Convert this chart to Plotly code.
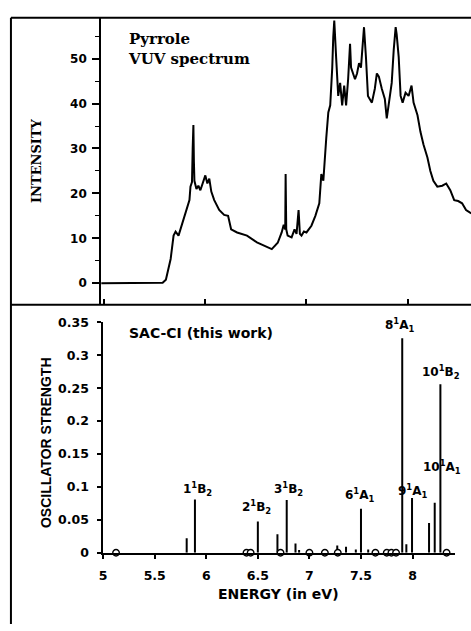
import plotly.graph_objects as go

# ---------------- data ----------------
# VUV spectrum of pyrrole (energy in eV, intensity)
spec_energy = [4.97, 5.30, 5.578, 5.61, 5.627, 5.657, 5.686, 5.706, 5.735, 5.775, 5.814, 5.843,
               5.853, 5.868, 5.875, 5.882, 5.887, 5.892, 5.912, 5.931, 5.951, 5.980, 6.000,
               6.020, 6.039, 6.059, 6.088, 6.137, 6.186, 6.225, 6.235, 6.255, 6.314, 6.412,
               6.510, 6.608, 6.657, 6.716, 6.755, 6.775, 6.790, 6.794, 6.800, 6.814, 6.853,
               6.882, 6.902, 6.922, 6.935, 6.951, 6.975, 7.000, 7.049, 7.088, 7.127, 7.147,
               7.167, 7.196, 7.216, 7.235, 7.245, 7.255, 7.265, 7.275, 7.294, 7.314, 7.333,
               7.353, 7.373, 7.392, 7.412, 7.431, 7.441, 7.461, 7.480, 7.500, 7.520, 7.539,
               7.569, 7.588, 7.608, 7.647, 7.676, 7.696, 7.716, 7.745, 7.775, 7.794, 7.814,
               7.843, 7.863, 7.882, 7.892, 7.912, 7.931, 7.951, 7.980, 8.010, 8.039, 8.059,
               8.098, 8.127, 8.157, 8.196, 8.225, 8.255, 8.294, 8.343, 8.382, 8.422, 8.461,
               8.500, 8.539, 8.578, 8.618, 8.660]
spec_intensity = [0.0, 0.1, 0.1, 0.8, 2.6, 5.4, 10.6, 11.5, 10.6, 13.5, 16.3, 18.5,
                  21.5, 22.5, 30.0, 35.2, 27.0, 22.8, 21.0, 21.7, 20.7, 22.8, 24.0,
                  22.2, 23.3, 20.4, 18.5, 16.3, 15.2, 15.0, 13.9, 12.0, 11.3, 10.6,
                  9.1, 8.0, 7.6, 9.0, 11.3, 13.0, 12.0, 24.3, 12.0, 10.6, 10.2,
                  12.0, 11.0, 16.3, 11.0, 10.6, 11.5, 11.3, 12.8, 15.0, 17.8, 24.3,
                  22.8, 32.4, 38.0, 39.6, 43.0, 48.0, 54.8, 58.5, 50.0, 41.7, 44.6,
                  39.6, 44.0, 39.6, 45.4, 53.3, 48.0, 46.7, 45.4, 46.7, 49.0, 48.0,
                  57.0, 50.4, 41.7, 40.2, 43.3, 46.7, 46.0, 43.3, 41.0, 36.7, 39.6,
                  44.6, 52.0, 57.0, 55.4, 50.4, 41.7, 40.2, 42.4, 41.7, 44.0, 40.2,
                  37.4, 33.7, 30.9, 28.0, 25.0, 22.8, 21.5, 21.7, 22.2, 20.7, 18.5,
                  18.3, 17.8, 16.3, 15.7, 15.2]

# SAC-CI oscillator strengths
stick_energy = [5.81, 5.89, 6.42, 6.50, 6.69, 6.78, 6.865, 6.90, 7.27, 7.355, 7.45, 7.50,
                7.57, 7.90, 7.94, 7.995, 8.16, 8.215, 8.27]
stick_strength = [0.022, 0.081, 0.005, 0.0475, 0.028, 0.080, 0.014, 0.004, 0.011, 0.009,
                  0.005, 0.067, 0.005, 0.326, 0.013, 0.083, 0.045, 0.076, 0.256]

# forbidden (zero strength) states
zero_energy = [5.125, 6.39, 6.43, 6.72, 7.00, 7.15, 7.275, 7.64, 7.75, 7.795, 7.84, 8.33]

# state labels
state_labels = ["1<sup>1</sup>B<sub>2</sub>", "2<sup>1</sup>B<sub>2</sub>", "3<sup>1</sup>B<sub>2</sub>",
                "6<sup>1</sup>A<sub>1</sub>", "8<sup>1</sup>A<sub>1</sub>", "9<sup>1</sup>A<sub>1</sub>",
                "10<sup>1</sup>B<sub>2</sub>", "10<sup>1</sup>A<sub>1</sub>"]
label_energy = [5.91, 6.49, 6.795, 7.49, 7.875, 7.996, 8.275, 8.285]
label_strength = [0.0964, 0.070, 0.097, 0.087, 0.3455, 0.0934, 0.2748, 0.1295]

top_yticks = [0, 10, 20, 30, 40, 50]
bottom_yticks = [0, 0.05, 0.1, 0.15, 0.2, 0.25, 0.3, 0.35]
bottom_yticktext = ["0", "0.05", "0.1", "0.15", "0.2", "0.25", "0.3", "0.35"]
bottom_xticks = [5, 5.5, 6, 6.5, 7, 7.5, 8]
bottom_xticktext = ["5", "5.5", "6", "6.5", "7", "7.5", "8"]

# ---------------- layout helpers ----------------
W, H = 471, 631
def PX(x):
    return x / W
def PY(y):
    return 1 - y / H

SANS = "Liberation Sans"
WIDE = "DejaVu Sans"
SERIF = "DejaVu Serif"

fig = go.Figure()

fig.add_trace(go.Scatter(x=spec_energy, y=spec_intensity, mode="lines",
                         line=dict(color="black", width=2), xaxis="x", yaxis="y",
                         showlegend=False, hoverinfo="skip"))

sx, sy = [], []
for e, f in zip(stick_energy, stick_strength):
    sx += [e, e, None]
    sy += [0, f, None]
fig.add_trace(go.Scatter(x=sx, y=sy, mode="lines", line=dict(color="black", width=2),
                         xaxis="x2", yaxis="y2", showlegend=False, hoverinfo="skip",
                         cliponaxis=False))
fig.add_trace(go.Scatter(x=zero_energy, y=[0] * len(zero_energy), mode="markers",
                         marker=dict(symbol="circle", size=6.5, color="white",
                                     line=dict(color="black", width=1.4)),
                         xaxis="x2", yaxis="y2", showlegend=False, hoverinfo="skip",
                         cliponaxis=False))

annotations = []
for t, e, f in zip(state_labels, label_energy, label_strength):
    annotations.append(dict(x=e, y=f, xref="x2", yref="y2", text="<b>" + t + "</b>",
                            showarrow=False, font=dict(family=WIDE, size=12, color="black"),
                            xanchor="center", yanchor="middle"))

annotations += [
    dict(x=PX(123), y=PY(42), xref="paper", yref="paper",
         text="<b>Pyrrole<br>VUV spectrum</b>", align="left",
         showarrow=False, xanchor="left", yanchor="middle",
         font=dict(family=SERIF, size=15, color="black")),
    dict(x=PX(33), y=PY(156), xref="paper", yref="paper", text="<b>INTENSITY</b>",
         showarrow=False, textangle=-90, xanchor="center", yanchor="middle",
         font=dict(family=SERIF, size=13, color="black")),
    dict(x=PX(124), y=PY(333), xref="paper", yref="paper", text="<b>SAC-CI (this work)</b>",
         showarrow=False, xanchor="left", yanchor="middle",
         font=dict(family=WIDE, size=14, color="black")),
    dict(x=PX(43), y=PY(445), xref="paper", yref="paper", text="<b>OSCILLATOR STRENGTH</b>",
         showarrow=False, textangle=-90, xanchor="center", yanchor="middle",
         font=dict(family=SANS, size=14, color="black")),
    dict(x=PX(277), y=PY(600), xref="paper", yref="paper", text="<b>ENERGY (in eV)</b>",
         showarrow=False, xanchor="center", yanchor="middle",
         font=dict(family=WIDE, size=14, color="black")),
]

shapes = [
    dict(type="line", xref="paper", yref="paper", x0=PX(7), x1=PX(7), y0=PY(10), y1=PY(631),
         line=dict(color="black", width=2)),
    dict(type="line", xref="paper", yref="paper", x0=PX(7), x1=1, y0=PY(10), y1=PY(10),
         line=dict(color="black", width=2)),
    dict(type="line", xref="paper", yref="paper", x0=PX(7), x1=1, y0=PY(304), y1=PY(304),
         line=dict(color="black", width=2)),
]

tickfont_top = dict(family=WIDE, size=12, color="black", weight="bold")
tickfont_bot = dict(family=WIDE, size=12.5, color="black", weight="bold")

fig.update_layout(
    width=W, height=H,
    margin=dict(l=0, r=0, t=0, b=0),
    paper_bgcolor="white", plot_bgcolor="white",
    showlegend=False,
    annotations=annotations,
    shapes=shapes,
    xaxis=dict(domain=[PX(98), 1.0], range=[4.97, 8.627], anchor="y",
               showgrid=False, zeroline=False, showline=False,
               tickvals=[5, 6, 7, 8], ticks="inside", ticklen=6, tickwidth=2,
               tickcolor="black", showticklabels=False),
    yaxis=dict(domain=[PY(304), PY(10)], range=[-4.8, 59.1], anchor="x",
               showgrid=False, zeroline=False, showline=True, linecolor="black",
               linewidth=2, tickvals=top_yticks, ticks="outside", ticklen=7,
               tickwidth=1.5, tickcolor="black", tickfont=tickfont_top,
               ticklabelstandoff=3,
               minor=dict(dtick=5, tick0=0, ticks="outside", ticklen=4,
                          tickwidth=1.2, tickcolor="black", showgrid=False)),
    xaxis2=dict(domain=[PX(100), PX(455)], range=[5, 8.413], anchor="y2",
                showgrid=False, zeroline=False, showline=True, linecolor="black",
                linewidth=1.5, tickvals=bottom_xticks, ticktext=bottom_xticktext,
                ticks="outside", ticklen=5, tickwidth=1.5, tickcolor="black",
                tickfont=tickfont_bot, ticklabelstandoff=6),
    yaxis2=dict(domain=[PY(558), PY(322)], range=[0, 0.35], anchor="x2",
                showgrid=False, zeroline=False, showline=True, linecolor="black",
                linewidth=1.5, tickvals=bottom_yticks, ticktext=bottom_yticktext,
                ticks="outside", ticklen=4, tickwidth=1.5, tickcolor="black",
                tickfont=tickfont_bot, ticklabelstandoff=6),
)

fig.write_html("out.html")
